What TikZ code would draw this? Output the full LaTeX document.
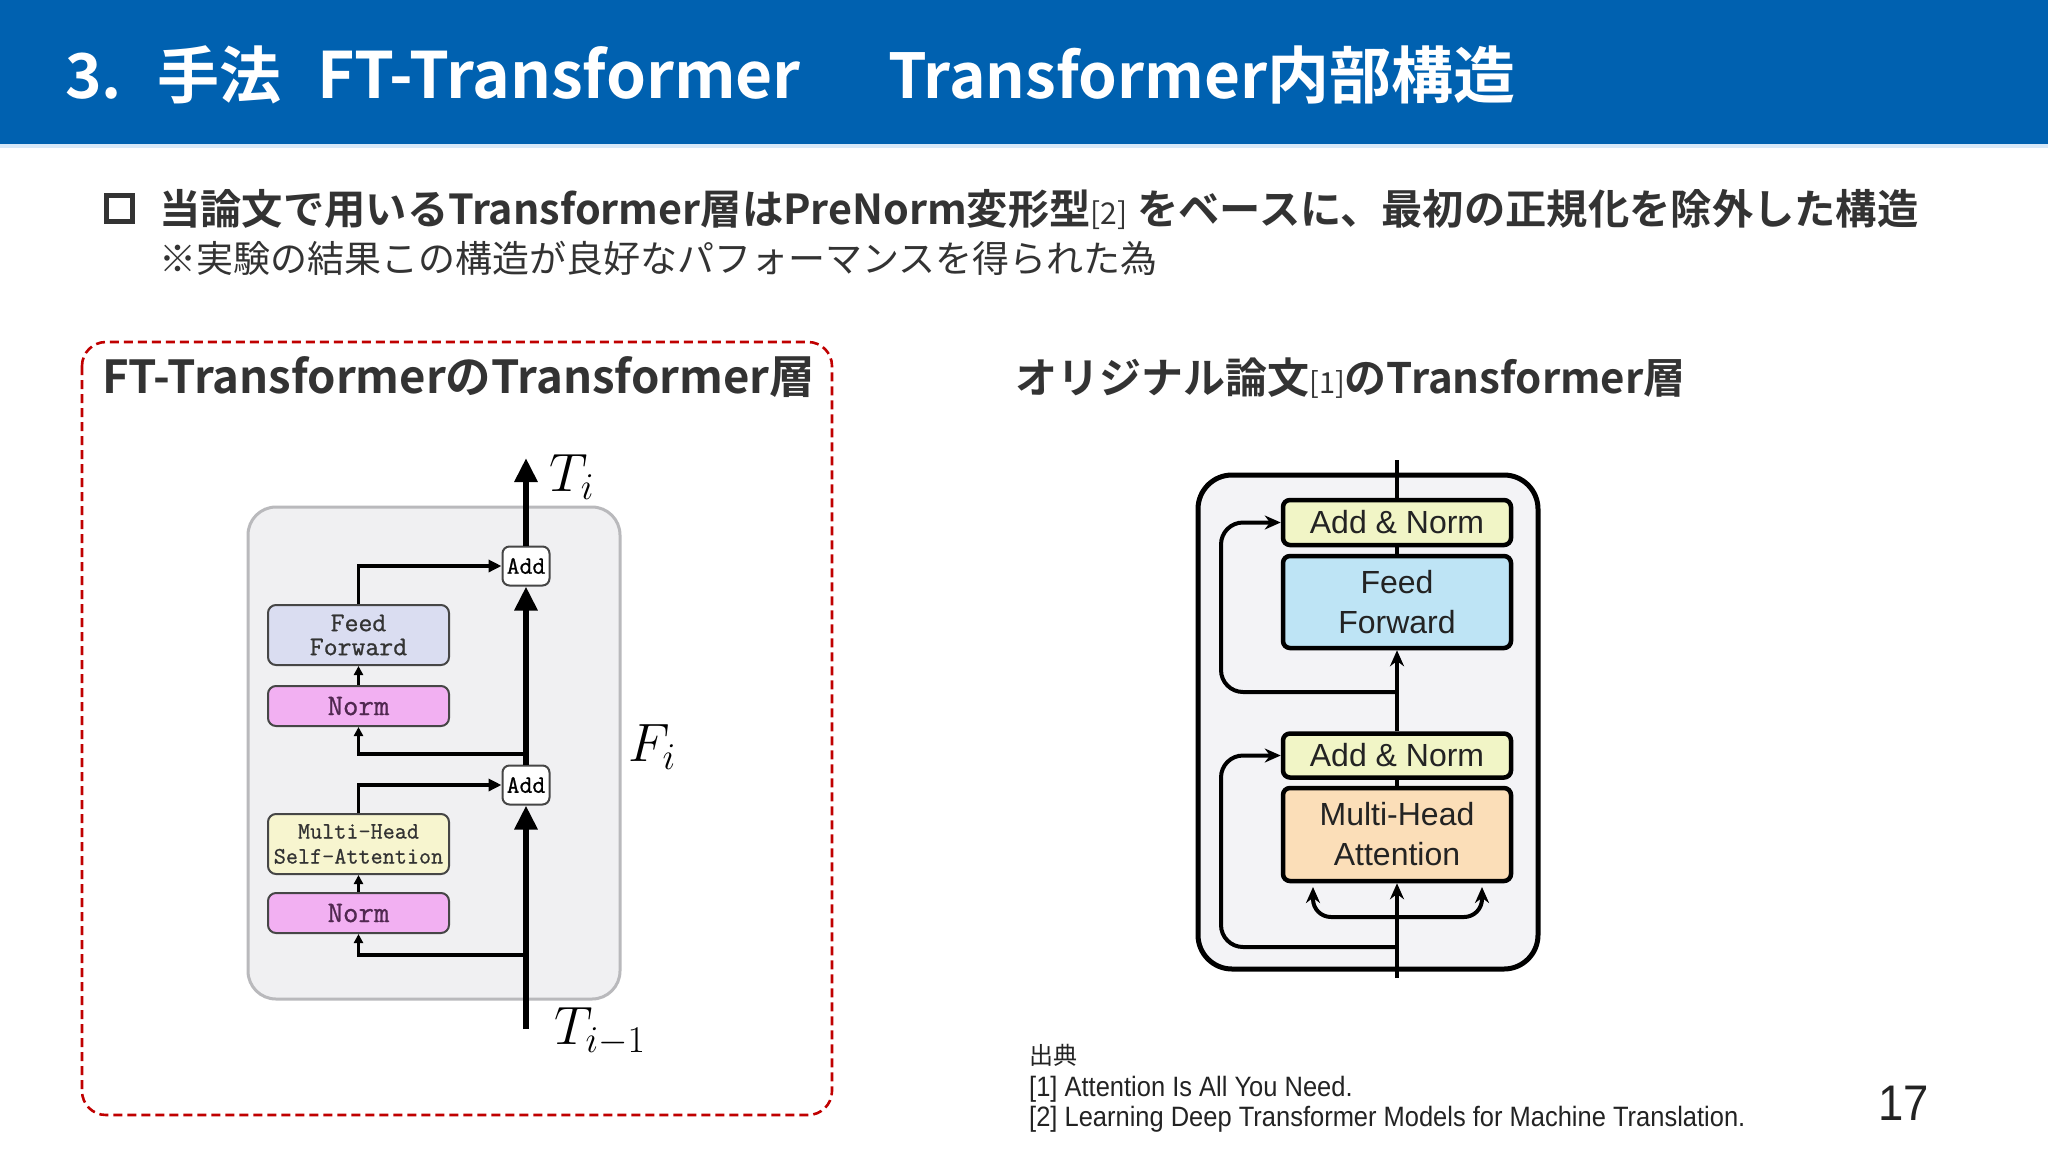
\RequirePackage{fix-cm}
\documentclass[tikz,border=0pt]{standalone}
\usepackage{fontspec}
\setmainfont{Liberation Sans}
\newfontfamily\jp{Noto Sans CJK JP}
\newfontfamily\jpbold{Noto Sans CJK JP Bold}
\newfontfamily\narrow[FakeStretch=0.91]{Liberation Sans}
\newfontfamily\lmtt[FakeBold=0.8]{Latin Modern Mono}
\usetikzlibrary{arrows.meta,calc}
\definecolor{hdr}{RGB}{0,97,176}
\definecolor{hdrline}{RGB}{215,232,248}
\definecolor{dark}{RGB}{51,51,51}
\definecolor{redd}{RGB}{192,0,0}
\definecolor{lbg}{RGB}{240,240,242}
\definecolor{lbgline}{RGB}{185,185,188}
\definecolor{ffc}{RGB}{218,221,241}
\definecolor{normc}{RGB}{242,176,242}
\definecolor{mhsac}{RGB}{247,245,207}
\definecolor{boxline}{RGB}{70,70,70}
\definecolor{rbg}{RGB}{243,243,246}
\definecolor{anc}{RGB}{241,245,198}
\definecolor{rffc}{RGB}{190,228,245}
\definecolor{mhac}{RGB}{251,222,184}
\definecolor{rtext}{RGB}{35,35,35}
\definecolor{normtext}{RGB}{80,40,80}
\begin{document}
\begin{tikzpicture}[x=1pt,y=-1pt,
  lbox/.style={draw=boxline, line width=2pt, rounded corners=8pt, minimum width=181pt, align=center, inner sep=0pt, text=dark},
  addbox/.style={draw=boxline, fill=white, line width=2pt, rounded corners=7pt, minimum width=47pt, minimum height=39pt, inner sep=0pt, font=\lmtt\fontsize{25}{25}\selectfont},
  mainln/.style={line width=6.5pt},
  bigtip/.style={-{Triangle[length=24pt,width=22pt]}},
  brln/.style={line width=3.5pt},
  smalltip/.style={-{Triangle[length=9pt,width=9pt]}},
  midtip/.style={-{Triangle[length=13pt,width=12pt]}},
  rbox/.style={draw=black, line width=4.5pt, rounded corners=7pt, minimum width=228pt, align=center, inner sep=0pt, text=rtext, font=\fontsize{32}{40}\selectfont},
  rln/.style={line width=4pt},
  rtip/.style={-{Stealth[length=16pt,width=14pt]}},
  mathlbl/.style={inner sep=0pt, font=\fontsize{54}{60}\selectfont},
  hdrtext/.style={anchor=base west, inner sep=0, text=white, font=\jpbold\fontsize{62}{70}\selectfont},
]
\useasboundingbox[fill=white] (0,0) rectangle (2048,1152);
% header
\fill[hdr] (0,0) rectangle (2048,144);
\fill[hdrline] (0,144) rectangle (2048,148);
\node[hdrtext] (h1) at (65,98) {3.};
\node[hdrtext] (h2) at (157,98) {手法};
\node[hdrtext, font=\jpbold\fontsize{64}{70}\selectfont] (h3) at (317,98) {FT-Transformer};
\node[hdrtext] (h4) at (888,98) {Transformer内部構造};
% bullet
\node[draw=dark, line width=4.5pt, minimum size=26pt, inner sep=0pt] (sq) at (119.5,208.5) {};
\node[anchor=base west, inner sep=0, text=dark, font=\jpbold\fontsize{41.3}{48}\selectfont] (b1) at (159,224) {当論文で用いるTransformer層はPreNorm変形型{\jp\fontsize{30}{30}\selectfont[2]} をベースに、最初の正規化を除外した構造};
\node[anchor=base west, inner sep=0, text=dark, font=\jp\fontsize{37}{44}\selectfont] (b2) at (159,272) {※実験の結果この構造が良好なパフォーマンスを得られた為};
% left dashed frame
\draw[redd, line width=2.6pt, dash pattern=on 9pt off 5pt, rounded corners=24pt] (82,342) rectangle (832,1115);
\node[anchor=base west, inner sep=0, text=dark, font=\jpbold\fontsize{45.5}{48}\selectfont] (lt) at (102,393) {FT-TransformerのTransformer層};
\node[anchor=base west, inner sep=0, text=dark, font=\jpbold\fontsize{42}{48}\selectfont] (rt) at (1015,393) {オリジナル論文{\jp\fontsize{29}{30}\selectfont[1]}のTransformer層};
% ---- left diagram ----
\draw[lbgline, fill=lbg, line width=3pt, rounded corners=28pt] (248,507) rectangle (620,999);
\node[lbox, fill=ffc, minimum height=60pt, font=\lmtt\fontsize{27}{24}\selectfont] (ff) at (358.5,635) {Feed\\Forward};
\node[lbox, fill=normc, minimum height=40pt, text=normtext, font=\lmtt\fontsize{30}{30}\selectfont] (n1) at (358.5,706) {Norm};
\node[lbox, fill=mhsac, minimum height=60pt, font=\lmtt\fontsize{23.5}{25}\selectfont] (mh) at (358.5,844) {Multi-Head\\Self-Attention};
\node[lbox, fill=normc, minimum height=40pt, text=normtext, font=\lmtt\fontsize{30}{30}\selectfont] (n2) at (358.5,913) {Norm};
\node[addbox] (addU) at (526,566) {Add};
\node[addbox] (addL) at (526,785) {Add};
\coordinate (bot) at (526,1029);
\coordinate (top) at (526,458);
\coordinate (jU) at (526,754);
\coordinate (jL) at (526,955);
\draw[mainln, bigtip] (bot) -- (addL.south);
\draw[mainln, bigtip] (addL.north) -- (addU.south);
\draw[mainln, bigtip] (addU.north) -- (top);
\draw[brln, smalltip] (jL) -| (n2.south);
\draw[brln, smalltip] (n2.north) -- (mh.south);
\draw[brln, midtip] (mh.north) |- (addL.west);
\draw[brln, smalltip] (jU) -| (n1.south);
\draw[brln, smalltip] (n1.north) -- (ff.south);
\draw[brln, midtip] (ff.north) |- (addU.west);
\node[mathlbl] (Ti) at (572,477) {$T_i$};
\node[mathlbl] (Fi) at (652,747) {$F_i$};
\node[mathlbl] (Tim) at (600,1032) {$T_{i-1}$};
% ---- right diagram ----
\draw[black, fill=rbg, line width=5pt, rounded corners=34pt] (1198,475) rectangle (1538,969);
\node[rbox, fill=anc, minimum height=45pt] (anU) at (1397,522.5) {Add \& Norm};
\node[rbox, fill=rffc, minimum height=92pt] (rff) at (1397,602) {Feed\\Forward};
\node[rbox, fill=anc, minimum height=44pt] (anL) at (1397,755.5) {Add \& Norm};
\node[rbox, fill=mhac, minimum height=93pt] (mha) at (1397,834.5) {Multi-Head\\Attention};
\coordinate (rtop) at (1397,460);
\coordinate (rbot) at (1397,978);
\coordinate (rjU) at (1397,692);
\coordinate (rjL) at (1397,947);
\coordinate (rcU) at (1221,522.5);
\coordinate (rcL) at (1221,755.5);
\coordinate (aL) at (1313,887);
\coordinate (aR) at (1482,887);
\coordinate (cB) at (1397,917);
\draw[rln, rtip] (rbot) -- (mha.south);
\draw[rln] (mha.north) -- (anL.south);
\draw[rln, rtip] (anL.north) -- (rff.south);
\draw[rln] (rff.north) -- (anU.south);
\draw[rln] (anU.north) -- (rtop);
\draw[rln, rtip, rounded corners=22pt] (rjU) -| (rcU) -- (anU.west);
\draw[rln, rtip, rounded corners=22pt] (rjL) -| (rcL) -- (anL.west);
\draw[rln, {Stealth[length=16pt,width=14pt]}-{Stealth[length=16pt,width=14pt]}, rounded corners=18pt] (aL) |- (cB) -| (aR);
% ---- footnotes ----
\node[anchor=base west, inner sep=0, text=rtext, font=\jp\fontsize{24}{26}\selectfont] (src) at (1029,1064) {出典};
\node[anchor=base west, inner sep=0, text=rtext, font=\narrow\fontsize{28}{28}\selectfont] (r1) at (1029,1096) {[1] Attention Is All You Need.};
\node[anchor=base west, inner sep=0, text=rtext, font=\narrow\fontsize{28}{28}\selectfont] (r2) at (1029,1126) {[2] Learning Deep Transformer Models for Machine Translation.};
\node[anchor=base west, inner sep=0, text=rtext, font=\narrow\fontsize{50}{50}\selectfont] (pg) at (1878,1120) {17};
\end{tikzpicture}
\end{document}
